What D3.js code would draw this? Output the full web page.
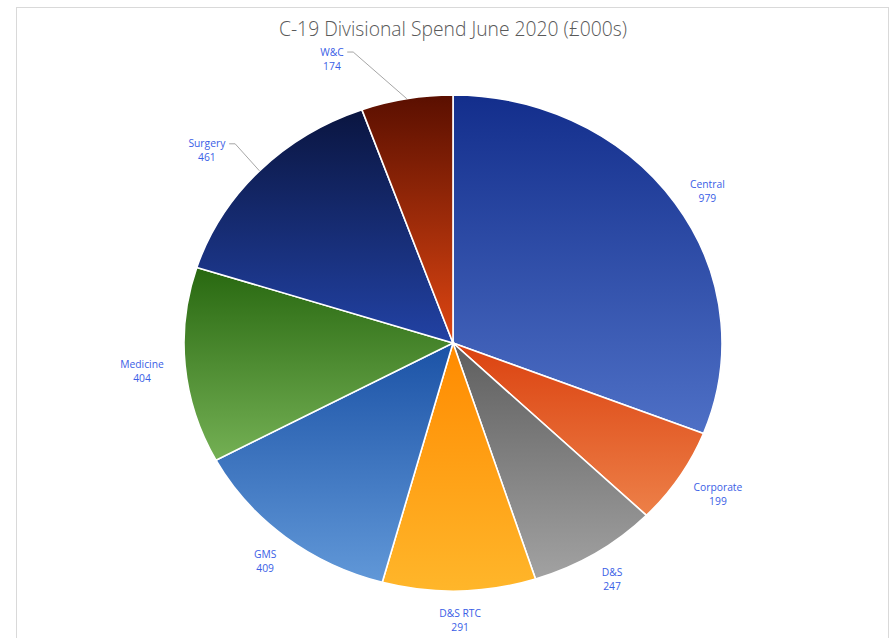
<!DOCTYPE html>
<html>
<head>
<meta charset="utf-8">
<script src="https://cdn.jsdelivr.net/npm/d3@7"></script>
<style>
  html, body { margin: 0; padding: 0; background: #ffffff; }
  svg { display: block; }
</style>
</head>
<body>
<svg id="chart" width="893" height="638"></svg>
<script>
// Divisional spend, £000s
const categories = ["Central", "Corporate", "D&S", "D&S RTC", "GMS", "Medicine", "Surgery", "W&C"];
const values = [979, 199, 247, 291, 409, 404, 461, 174];
const title = "C-19 Divisional Spend June 2020 (£000s)";

// Slice fills: dark (top) to light (bottom)
const topColors    = ["#132e8c", "#db4210", "#5e5e5e", "#ff8a00", "#1b52a6", "#286810", "#0a1540", "#5a0f00"];
const bottomColors = ["#4e70c6", "#ed8048", "#a2a2a2", "#ffb62a", "#6198d8", "#74b054", "#2242a4", "#de4612"];

const W = 893, H = 638;
const cx = 453, cy = 343;
const rx = 269, ry = 248;

const svg = d3.select("#chart");

// Chart frame
svg.append("rect")
  .attr("x", 16.5).attr("y", 7.5)
  .attr("width", 872).attr("height", 640)
  .attr("fill", "#ffffff")
  .attr("stroke", "#d9d9d9").attr("stroke-width", 1);

svg.append("text")
  .attr("x", cx).attr("y", 36)
  .attr("text-anchor", "middle")
  .attr("font-family", "'Open Sans', sans-serif")
  .attr("font-weight", 300)
  .attr("font-size", 19.3)
  .attr("fill", "#595959")
  .text(title);

const defs = svg.append("defs");
categories.forEach((c, i) => {
  const g = defs.append("linearGradient")
    .attr("id", "grad" + i)
    .attr("x1", 0).attr("y1", 0).attr("x2", 0).attr("y2", 1);
  g.append("stop").attr("offset", "0%").attr("stop-color", topColors[i]);
  g.append("stop").attr("offset", "100%").attr("stop-color", bottomColors[i]);
});

const data = categories.map((c, i) => ({ name: c, value: values[i], i }));
const pie = d3.pie().value(d => d.value).sort(null);
const arcs = pie(data);

// Unit-radius arcs, stretched into the ellipse by the group transform
const R = 100;
const arc = d3.arc().innerRadius(0).outerRadius(R);

const pieG = svg.append("g")
  .attr("transform", `translate(${cx},${cy}) scale(${rx / R},${ry / R})`);

pieG.selectAll("path.slice")
  .data(arcs)
  .join("path")
  .attr("class", "slice")
  .attr("d", arc)
  .attr("fill", d => `url(#grad${d.data.i})`)
  .attr("stroke", "#ffffff")
  .attr("stroke-width", 1.6)
  .attr("vector-effect", "non-scaling-stroke");

// Point on the ellipse at angle a (radians, clockwise from 12 o'clock), radius factor k
const pt = (a, k) => [cx + rx * k * Math.sin(a), cy - ry * k * Math.cos(a)];

// The two small upper-left slices carry their labels further out, with leaders
const labelNudge = { "Surgery": [-0.915, -0.775], "W&C": [-0.45, -1.145] };

const labelG = svg.append("g")
  .attr("font-family", "'Open Sans', sans-serif")
  .attr("font-size", 10.3)
  .attr("fill", "#3a5ee6");

arcs.forEach(d => {
  const mid = (d.startAngle + d.endAngle) / 2;
  const t = labelG.append("text").attr("text-anchor", "middle");
  const l1 = t.append("tspan").text(d.data.name);
  const l2 = t.append("tspan").text(d3.format(",")(d.data.value));

  let lx, ly;
  if (labelNudge[d.data.name]) {
    const n = labelNudge[d.data.name];
    lx = cx + rx * n[0];
    ly = cy + ry * n[1];
  } else {
    // label box sits just off the rim, pushed out by its own half-size
    const halfW = Math.max(l1.node().getComputedTextLength(), l2.node().getComputedTextLength()) / 2;
    const halfH = 7;
    const [ax, ay] = pt(mid, 1.08);
    lx = ax + Math.sin(mid) * halfW;
    ly = ay - Math.cos(mid) * halfH + 3;
  }
  l1.attr("x", lx).attr("y", ly - 3.5);
  l2.attr("x", lx).attr("y", ly + 10.5);

  if (labelNudge[d.data.name]) {
    const w = t.node().getBBox();
    const edge = pt(mid, 1.0);
    const sx = w.x + w.width + 3;
    const sy = ly - 7;
    svg.append("path")
      .attr("d", `M${sx},${sy} L${sx + 6},${sy} L${edge[0]},${edge[1]}`)
      .attr("fill", "none")
      .attr("stroke", "#a6a6a6")
      .attr("stroke-width", 1);
  }
});
</script>
</body>
</html>
